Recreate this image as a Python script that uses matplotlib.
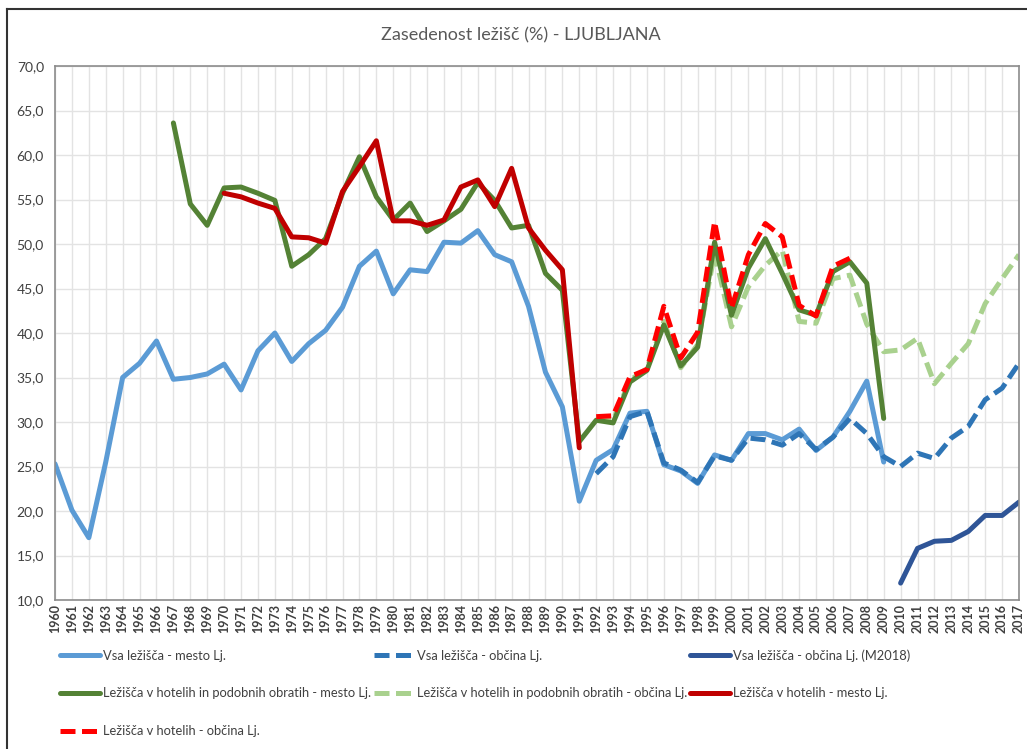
import matplotlib
matplotlib.use('Agg')
import matplotlib.pyplot as plt
from matplotlib.lines import Line2D
from matplotlib.ticker import FuncFormatter, MultipleLocator
import numpy as np

plt.rcParams['font.family'] = ['Lato', 'DejaVu Sans']

# Years shown on the category axis
years = list(range(1960, 2018))

# Vsa ležišča - mesto Lj. (1960-2009)
yrs_vsa_mesto = list(range(1960, 2010))
vsa_mesto = [25.3, 20.1, 17.0, 25.5, 35.0, 36.6, 39.1, 34.8, 35.0, 35.4,
             36.5, 33.6, 38.0, 40.0, 36.8, 38.8, 40.3, 42.9, 47.5, 49.2,
             44.4, 47.1, 46.9, 50.2, 50.1, 51.5, 48.8, 48.0, 43.0, 35.6,
             31.7, 21.1, 25.7, 26.9, 31.0, 31.2, 25.2, 24.5, 23.1, 26.3,
             25.7, 28.7, 28.7, 28.0, 29.2, 26.8, 28.3, 31.2, 34.6, 25.5]

# Vsa ležišča - občina Lj. (1992-2017)
yrs_vsa_obcina = list(range(1992, 2018))
vsa_obcina = [24.2, 26.1, 30.6, 31.2, 25.4, 24.6, 23.2, 26.2, 25.7, 28.2,
              28.0, 27.4, 28.7, 26.9, 28.3, 30.4, 28.7, 26.1, 25.0, 26.5,
              25.9, 28.2, 29.5, 32.5, 33.8, 36.6]

# Vsa ležišča - občina Lj. (M2018) (2010-2017)
yrs_m2018 = list(range(2010, 2018))
vsa_m2018 = [11.9, 15.8, 16.6, 16.7, 17.7, 19.5, 19.5, 21.0]

# Ležišča v hotelih in podobnih obratih - mesto Lj. (1967-2009)
yrs_hp_mesto = list(range(1967, 2010))
hp_mesto = [63.6, 54.5, 52.1, 56.3, 56.4, 55.7, 54.9, 47.5, 48.8, 50.6,
            55.7, 59.8, 55.3, 52.7, 54.6, 51.4, 52.6, 53.9, 56.9, 54.9,
            51.8, 52.1, 46.7, 44.8, 27.8, 30.2, 29.9, 34.5, 35.8, 40.9,
            36.3, 38.4, 50.2, 42.0, 47.3, 50.6, 46.7, 42.6, 42.0, 46.9,
            48.0, 45.6, 30.4]

# Ležišča v hotelih in podobnih obratih - občina Lj. (1992-2017)
yrs_hp_obcina = list(range(1992, 2018))
hp_obcina = [30.4, 30.2, 34.7, 36.0, 41.3, 36.1, 38.7, 49.0, 40.7, 45.2,
             47.6, 49.3, 41.3, 41.1, 46.1, 46.5, 41.0, 37.9, 38.1, 39.4,
             34.3, 36.6, 38.8, 43.3, 46.1, 48.8]

# Ležišča v hotelih - mesto Lj. (1970-1991)
yrs_h_mesto = list(range(1970, 1992))
h_mesto = [55.7, 55.3, 54.6, 54.0, 50.8, 50.7, 50.1, 55.9, 58.7, 61.6,
           52.6, 52.6, 52.1, 52.7, 56.4, 57.2, 54.2, 58.5, 51.8, 49.3,
           47.1, 27.1]

# Ležišča v hotelih - občina Lj. (1992-2007)
yrs_h_obcina = list(range(1992, 2008))
h_obcina = [30.6, 30.7, 35.1, 35.9, 43.0, 37.2, 40.1, 52.5, 42.8, 48.8,
            52.3, 50.8, 43.1, 41.9, 47.5, 48.4]

fig = plt.figure(figsize=(10.27, 7.49), dpi=100)
ax = fig.add_axes([55 / 1027, 1 - 600 / 749, 964 / 1027, 534 / 749])

lw = 3.6
dash = (3.0, 1.3)

l1, = ax.plot(yrs_vsa_mesto, vsa_mesto, color='#5B9BD5', lw=lw,
              solid_joinstyle='round', solid_capstyle='round',
              label='Vsa ležišča - mesto Lj.')
l2, = ax.plot(yrs_vsa_obcina, vsa_obcina, color='#2E75B6', lw=lw,
              dashes=dash, label='Vsa ležišča - občina Lj.')
l3, = ax.plot(yrs_m2018, vsa_m2018, color='#2F5597', lw=lw,
              solid_joinstyle='round', solid_capstyle='round',
              label='Vsa ležišča - občina Lj. (M2018)')
l5, = ax.plot(yrs_hp_obcina, hp_obcina, color='#A9D18E', lw=lw,
              dashes=dash, label='Ležišča v hotelih in podobnih obratih - občina Lj.')
l4, = ax.plot(yrs_hp_mesto, hp_mesto, color='#548235', lw=lw,
              solid_joinstyle='round', solid_capstyle='round',
              label='Ležišča v hotelih in podobnih obratih - mesto Lj.')
l6, = ax.plot(yrs_h_mesto, h_mesto, color='#C00000', lw=lw,
              solid_joinstyle='round', solid_capstyle='round',
              label='Ležišča v hotelih - mesto Lj.')
l7, = ax.plot(yrs_h_obcina, h_obcina, color='#FF0000', lw=lw,
              dashes=dash, label='Ležišča v hotelih - občina Lj.')

ax.set_xlim(years[0], years[-1])
ax.set_ylim(10, 70)
ax.yaxis.set_major_locator(MultipleLocator(5))
ax.yaxis.set_major_formatter(FuncFormatter(lambda v, p: f'{v:.1f}'.replace('.', ',')))
ax.set_xticks(years)
ax.set_xticklabels([str(y) for y in years], rotation=90, fontsize=9,
                   color='#404040', fontweight='bold')
ax.tick_params(axis='y', labelsize=10, labelcolor='#404040', length=0, pad=8)
ax.tick_params(axis='x', length=0, pad=3)
ax.grid(True, color='#E3E3E3', lw=1.0)
ax.set_axisbelow(True)
for s in ax.spines.values():
    s.set_color('#8C8C8C')
    s.set_linewidth(1.2)

fig.text(0.507, 1 - 35 / 749, 'Zasedenost ležišč (%) - LJUBLJANA',
         ha='center', va='center', fontsize=13, color='#595959')

# legend, row-major like the original
handles = [l1, l4, l7, l2, l5, l3, l6]
leg = fig.legend(handles=handles, ncol=3, loc='upper left',
                 bbox_to_anchor=(60 / 1027, 1 - 649 / 749),
                 frameon=False, fontsize=9.3, handlelength=3.1,
                 handletextpad=0.25, columnspacing=0.2, labelspacing=2.0,
                 borderaxespad=0, borderpad=0)
for t in leg.get_texts():
    t.set_color('#404040')

# screenshot frame lines (top, left)
fig.add_artist(Line2D([7 / 1027, 1], [1 - 9 / 749, 1 - 9 / 749],
                      transform=fig.transFigure, color='#333333', lw=1.5))
fig.add_artist(Line2D([7 / 1027, 7 / 1027], [0, 1 - 9 / 749],
                      transform=fig.transFigure, color='#333333', lw=1.5))

fig.savefig('out.png', dpi=100, facecolor='white')
